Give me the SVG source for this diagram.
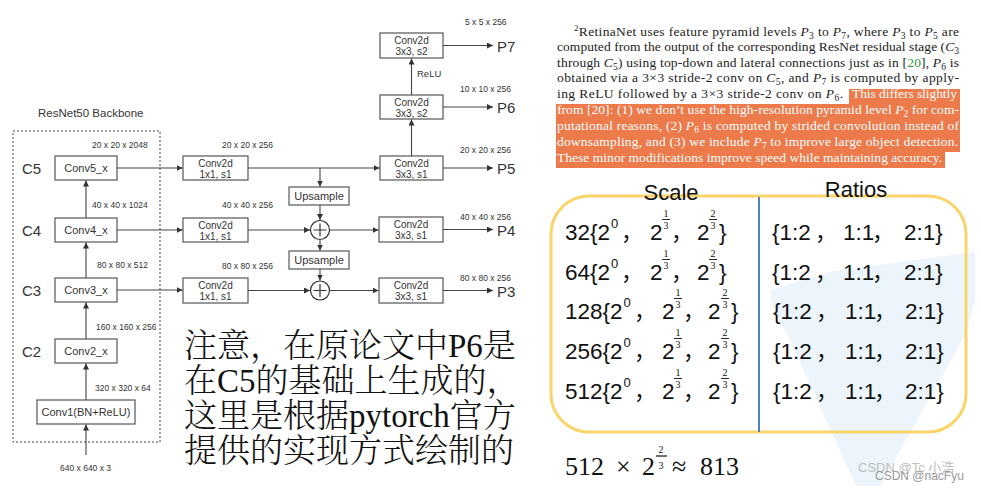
<svg xmlns="http://www.w3.org/2000/svg" width="981" height="491" viewBox="0 0 981 491">
<defs>
<marker id="ah" markerUnits="userSpaceOnUse" markerWidth="7" markerHeight="6" refX="6" refY="3" orient="auto">
<path d="M0,0 L6,3 L0,6 z" fill="#333"/>
</marker>
<style>
.box{fill:#fff;stroke:#555;stroke-width:1.2}
.t{font-family:"Liberation Sans",Arial,sans-serif;fill:#333}
.bl{font-size:11px;text-anchor:middle}
.cv{font-size:10px;text-anchor:middle}
.dim{font-size:8.5px}
.cl{font-size:15px}
.pl{font-size:15px}
.conn line,.conn path{stroke:#444;stroke-width:1.1;fill:none}
.arr{marker-end:url(#ah)}
.pa{font-family:"Liberation Serif","Times New Roman",serif;font-size:13.5px;fill:#222}
.wh{fill:#fff}
.i{font-style:italic}
.sb{font-size:9.5px}
.tb{font-family:"Liberation Sans",Arial,sans-serif;font-size:22.5px;fill:#111}
.sup{font-size:13px}
.fr{font-family:"Liberation Serif",serif;font-size:10px;fill:#111;text-anchor:middle}
.fb{stroke:#111;stroke-width:0.9}
.cm{font-family:"Noto Sans CJK SC",sans-serif;font-size:22px;fill:#111}
.hd{font-family:"Liberation Sans",Arial,sans-serif;font-size:22px;fill:#111;text-anchor:middle}
.zh{font-family:"Liberation Serif","Noto Serif CJK SC","Noto Sans CJK SC",serif;font-size:33px;font-weight:300;fill:#111}
.fm{font-family:"Liberation Serif",serif;font-size:26px;fill:#111}
</style>
</defs>
<rect width="981" height="491" fill="#fff"/>

<g id="backbone">
<text class="t" x="38" y="117" font-size="11.5">ResNet50 Backbone</text>
<rect x="13" y="131" width="147" height="311" fill="none" stroke="#444" stroke-width="1" stroke-dasharray="2,2"/>
<text class="t cl" x="22" y="174">C5</text>
<text class="t cl" x="22" y="236">C4</text>
<text class="t cl" x="22" y="296">C3</text>
<text class="t cl" x="22" y="357">C2</text>
</g>

<g id="conv5"><rect class="box" x="55" y="156" width="62" height="24"/><text class="t bl" x="86" y="172">Conv5_x</text></g>
<g id="conv4"><rect class="box" x="55" y="218" width="62" height="24"/><text class="t bl" x="86" y="234">Conv4_x</text></g>
<g id="conv3"><rect class="box" x="55" y="278" width="62" height="24"/><text class="t bl" x="86" y="294">Conv3_x</text></g>
<g id="conv2"><rect class="box" x="55" y="339" width="62" height="24"/><text class="t bl" x="86" y="355">Conv2_x</text></g>
<g id="conv1"><rect class="box" x="37" y="400" width="98" height="24"/><text class="t bl" x="86" y="416">Conv1(BN+ReLU)</text></g>

<g id="lat5"><rect class="box" x="183" y="156" width="65" height="24"/><text class="t cv" x="215.5" y="166.5">Conv2d</text><text class="t cv" x="215.5" y="177.5">1x1, s1</text></g>
<g id="lat4"><rect class="box" x="183" y="218" width="65" height="24"/><text class="t cv" x="215.5" y="228.5">Conv2d</text><text class="t cv" x="215.5" y="239.5">1x1, s1</text></g>
<g id="lat3"><rect class="box" x="183" y="278" width="65" height="25"/><text class="t cv" x="215.5" y="288.5">Conv2d</text><text class="t cv" x="215.5" y="299.5">1x1, s1</text></g>

<g id="up1"><rect class="box" x="289" y="187" width="60" height="18"/><text class="t bl" x="319" y="200">Upsample</text></g>
<g id="up2"><rect class="box" x="289" y="251" width="60" height="18"/><text class="t bl" x="319" y="264">Upsample</text></g>
<g id="add4"><circle cx="320" cy="230" r="9.5" fill="#fff" stroke="#333" stroke-width="1.2"/><path d="M313.5,230 H326.5 M320,223.5 V236.5" stroke="#333" stroke-width="1.2"/></g>
<g id="add3"><circle cx="320" cy="290.5" r="9.5" fill="#fff" stroke="#333" stroke-width="1.2"/><path d="M313.5,290.5 H326.5 M320,284 V297" stroke="#333" stroke-width="1.2"/></g>

<g id="p7conv"><rect class="box" x="380" y="33" width="63" height="25"/><text class="t cv" x="411.5" y="43.5">Conv2d</text><text class="t cv" x="411.5" y="55">3x3, s2</text></g>
<g id="p6conv"><rect class="box" x="380" y="95" width="63" height="24"/><text class="t cv" x="411.5" y="105.5">Conv2d</text><text class="t cv" x="411.5" y="116.5">3x3, s2</text></g>
<g id="p5conv"><rect class="box" x="380" y="156" width="63" height="24"/><text class="t cv" x="411.5" y="166.5">Conv2d</text><text class="t cv" x="411.5" y="177.5">3x3, s1</text></g>
<g id="p4conv"><rect class="box" x="379" y="217" width="64" height="25"/><text class="t cv" x="411" y="227.5">Conv2d</text><text class="t cv" x="411" y="239">3x3, s1</text></g>
<g id="p3conv"><rect class="box" x="379" y="278" width="64" height="25"/><text class="t cv" x="411" y="288.5">Conv2d</text><text class="t cv" x="411" y="300">3x3, s1</text></g>

<g id="outputs">
<text class="t pl" x="497" y="52">P7</text>
<text class="t pl" x="497" y="113">P6</text>
<text class="t pl" x="497" y="174">P5</text>
<text class="t pl" x="497" y="236">P4</text>
<text class="t pl" x="497" y="297">P3</text>
</g>

<g id="dims" class="t dim">
<text x="92" y="148">20 x 20 x 2048</text>
<text x="92" y="208">40 x 40 x 1024</text>
<text x="97" y="268">80 x 80 x 512</text>
<text x="96" y="330">160 x 160 x 256</text>
<text x="95" y="391">320 x 320 x 64</text>
<text x="60" y="471">640 x 640 x 3</text>
<text x="222" y="148">20 x 20 x 256</text>
<text x="222" y="208">40 x 40 x 256</text>
<text x="222" y="269">80 x 80 x 256</text>
<text x="465" y="25">5 x 5 x 256</text>
<text x="460" y="92">10 x 10 x 256</text>
<text x="460" y="153">20 x 20 x 256</text>
<text x="460" y="220">40 x 40 x 256</text>
<text x="460" y="281">80 x 80 x 256</text>
<text x="417" y="77" font-size="9.5">ReLU</text>
</g>

<g id="connectors" class="conn">
<line class="arr" x1="86" y1="455" x2="86" y2="424.5"/>
<line class="arr" x1="86" y1="400" x2="86" y2="363.5"/>
<line class="arr" x1="86" y1="339" x2="86" y2="302.5"/>
<line class="arr" x1="86" y1="278" x2="86" y2="242.5"/>
<line class="arr" x1="86" y1="218" x2="86" y2="180.5"/>
<line class="arr" x1="117" y1="168" x2="182.5" y2="168"/>
<line class="arr" x1="117" y1="230" x2="182.5" y2="230"/>
<line class="arr" x1="117" y1="290" x2="182.5" y2="290"/>
<line class="arr" x1="248" y1="168" x2="379.5" y2="168"/>
<line class="arr" x1="320" y1="168" x2="320" y2="186.5"/>
<line class="arr" x1="320" y1="205" x2="320" y2="220"/>
<line class="arr" x1="248" y1="230" x2="310" y2="230"/>
<line class="arr" x1="329.5" y1="230" x2="378.5" y2="230"/>
<line class="arr" x1="320" y1="239.5" x2="320" y2="250.5"/>
<line class="arr" x1="320" y1="269" x2="320" y2="280.5"/>
<line class="arr" x1="248" y1="290.5" x2="310" y2="290.5"/>
<line class="arr" x1="329.5" y1="290.5" x2="378.5" y2="290.5"/>
<line class="arr" x1="411.5" y1="156" x2="411.5" y2="119.5"/>
<line class="arr" x1="411.5" y1="95" x2="411.5" y2="58.5"/>
<line class="arr" x1="443" y1="45.5" x2="493" y2="45.5"/>
<line class="arr" x1="443" y1="107" x2="493" y2="107"/>
<line class="arr" x1="443" y1="168" x2="493" y2="168"/>
<line class="arr" x1="443" y1="229.5" x2="493" y2="229.5"/>
<line class="arr" x1="443" y1="290.5" x2="493" y2="290.5"/>
</g>

<g id="note" class="zh">
<text x="184" y="357">注意，在原论文中P6是</text>
<text x="184" y="392">在C5的基础上生成的，</text>
<text x="184" y="427">这里是根据pytorch官方</text>
<text x="184" y="462">提供的实现方式绘制的</text>
</g>

<g id="footnote">
<polygon points="849,89 960,89 960,152 945,152 945,168 556,168 556,104 849,104" fill="#EC7A4B"/>
<text class="pa" x="574" y="35.5" textLength="385" lengthAdjust="spacing"><tspan font-size="9" dy="-5">2</tspan><tspan dy="5">RetinaNet uses feature pyramid levels </tspan><tspan class="i">P</tspan><tspan class="sb" dy="3">3</tspan><tspan dy="-3"> to </tspan><tspan class="i">P</tspan><tspan class="sb" dy="3">7</tspan><tspan dy="-3">, where </tspan><tspan class="i">P</tspan><tspan class="sb" dy="3">3</tspan><tspan dy="-3"> to </tspan><tspan class="i">P</tspan><tspan class="sb" dy="3">5</tspan><tspan dy="-3"> are</tspan></text>
<text class="pa" x="557" y="51" textLength="402" lengthAdjust="spacing">computed from the output of the corresponding ResNet residual stage (<tspan class="i">C</tspan><tspan class="sb" dy="3">3</tspan></text>
<text class="pa" x="557" y="66.5" textLength="402" lengthAdjust="spacing">through <tspan class="i">C</tspan><tspan class="sb" dy="3">5</tspan><tspan dy="-3">) using top-down and lateral connections just as in [</tspan><tspan fill="#2f9a3a">20</tspan>], <tspan class="i">P</tspan><tspan class="sb" dy="3">6</tspan><tspan dy="-3"> is</tspan></text>
<text class="pa" x="557" y="82" textLength="402" lengthAdjust="spacing">obtained via a 3×3 stride-2 conv on <tspan class="i">C</tspan><tspan class="sb" dy="3">5</tspan><tspan dy="-3">, and </tspan><tspan class="i">P</tspan><tspan class="sb" dy="3">7</tspan><tspan dy="-3"> is computed by apply-</tspan></text>
<text class="pa" x="557" y="98" textLength="286" lengthAdjust="spacing">ing ReLU followed by a 3×3 stride-2 conv on <tspan class="i">P</tspan><tspan class="sb" dy="3">6</tspan><tspan dy="-3">.</tspan></text>
<text class="pa wh" x="852" y="98" textLength="105" lengthAdjust="spacing">This differs slightly</text>
<text class="pa wh" x="557" y="114" textLength="402" lengthAdjust="spacing">from [20]: (1) we don’t use the high-resolution pyramid level <tspan class="i">P</tspan><tspan class="sb" dy="3">2</tspan><tspan dy="-3"> for com-</tspan></text>
<text class="pa wh" x="557" y="130" textLength="402" lengthAdjust="spacing">putational reasons, (2) <tspan class="i">P</tspan><tspan class="sb" dy="3">6</tspan><tspan dy="-3"> is computed by strided convolution instead of</tspan></text>
<text class="pa wh" x="557" y="146" textLength="401" lengthAdjust="spacing">downsampling, and (3) we include <tspan class="i">P</tspan><tspan class="sb" dy="3">7</tspan><tspan dy="-3"> to improve large object detection.</tspan></text>
<text class="pa wh" x="557" y="161.5" textLength="385" lengthAdjust="spacing">These minor modifications improve speed while maintaining accuracy.</text>
</g>

<polygon points="770,290 830,272 900,262 975,252 975,300 965,335 880,486 856,486 790,340 772,305" fill="#E4F1FA" opacity="0.7"/>
<g id="anchor-table">
<rect x="551" y="196" width="415" height="236" rx="38" fill="none" stroke="#F8D46A" stroke-width="3"/>
<line x1="759" y1="197" x2="759" y2="432" stroke="#4F7FC0" stroke-width="2"/>
<text class="hd" x="671" y="200">Scale</text>
<text class="hd" x="856" y="197">Ratios</text>
</g>

<g id="row-32" transform="translate(0,240)">
<text class="tb" x="565">32{2<tspan class="sup" dx="1" dy="-12">0</tspan></text><text class="cm" x="621">，</text>
<text class="tb" x="650">2</text><text class="fr" x="666" y="-23">1</text><line class="fb" x1="662" y1="-20.5" x2="670" y2="-20.5"/><text class="fr" x="666" y="-11.5">3</text>
<text class="cm" x="671">，</text>
<text class="tb" x="697">2</text><text class="fr" x="713" y="-23">2</text><line class="fb" x1="709" y1="-20.5" x2="717" y2="-20.5"/><text class="fr" x="713" y="-11.5">3</text>
<text class="tb" x="719">}</text>
<text class="tb" x="772">{1:2</text><text class="cm" x="815">，</text><text class="tb" x="843">1:1</text><text class="cm" x="872">，</text><text class="tb" x="904">2:1}</text>
</g>
<g id="row-64" transform="translate(0,280)">
<text class="tb" x="565">64{2<tspan class="sup" dx="1" dy="-12">0</tspan></text><text class="cm" x="621">，</text>
<text class="tb" x="650">2</text><text class="fr" x="666" y="-23">1</text><line class="fb" x1="662" y1="-20.5" x2="670" y2="-20.5"/><text class="fr" x="666" y="-11.5">3</text>
<text class="cm" x="671">，</text>
<text class="tb" x="697">2</text><text class="fr" x="713" y="-23">2</text><line class="fb" x1="709" y1="-20.5" x2="717" y2="-20.5"/><text class="fr" x="713" y="-11.5">3</text>
<text class="tb" x="719">}</text>
<text class="tb" x="772">{1:2</text><text class="cm" x="815">，</text><text class="tb" x="843">1:1</text><text class="cm" x="872">，</text><text class="tb" x="904">2:1}</text>
</g>
<g id="row-128" transform="translate(0,319)">
<text class="tb" x="565">128{2<tspan class="sup" dx="1" dy="-12">0</tspan></text><text class="cm" x="634">，</text>
<text class="tb" x="662">2</text><text class="fr" x="678" y="-23">1</text><line class="fb" x1="674" y1="-20.5" x2="682" y2="-20.5"/><text class="fr" x="678" y="-11.5">3</text>
<text class="cm" x="683">，</text>
<text class="tb" x="708">2</text><text class="fr" x="725" y="-23">2</text><line class="fb" x1="721" y1="-20.5" x2="729" y2="-20.5"/><text class="fr" x="725" y="-11.5">3</text>
<text class="tb" x="731">}</text>
<text class="tb" x="773">{1:2</text><text class="cm" x="816">，</text><text class="tb" x="845">1:1</text><text class="cm" x="874">，</text><text class="tb" x="905">2:1}</text>
</g>
<g id="row-256" transform="translate(0,359)">
<text class="tb" x="565">256{2<tspan class="sup" dx="1" dy="-12">0</tspan></text><text class="cm" x="634">，</text>
<text class="tb" x="662">2</text><text class="fr" x="678" y="-23">1</text><line class="fb" x1="674" y1="-20.5" x2="682" y2="-20.5"/><text class="fr" x="678" y="-11.5">3</text>
<text class="cm" x="683">，</text>
<text class="tb" x="708">2</text><text class="fr" x="725" y="-23">2</text><line class="fb" x1="721" y1="-20.5" x2="729" y2="-20.5"/><text class="fr" x="725" y="-11.5">3</text>
<text class="tb" x="731">}</text>
<text class="tb" x="773">{1:2</text><text class="cm" x="816">，</text><text class="tb" x="845">1:1</text><text class="cm" x="874">，</text><text class="tb" x="905">2:1}</text>
</g>
<g id="row-512" transform="translate(0,399)">
<text class="tb" x="565">512{2<tspan class="sup" dx="1" dy="-12">0</tspan></text><text class="cm" x="634">，</text>
<text class="tb" x="662">2</text><text class="fr" x="678" y="-23">1</text><line class="fb" x1="674" y1="-20.5" x2="682" y2="-20.5"/><text class="fr" x="678" y="-11.5">3</text>
<text class="cm" x="683">，</text>
<text class="tb" x="708">2</text><text class="fr" x="725" y="-23">2</text><line class="fb" x1="721" y1="-20.5" x2="729" y2="-20.5"/><text class="fr" x="725" y="-11.5">3</text>
<text class="tb" x="731">}</text>
<text class="tb" x="773">{1:2</text><text class="cm" x="816">，</text><text class="tb" x="845">1:1</text><text class="cm" x="874">，</text><text class="tb" x="905">2:1}</text>
</g>

<g id="formula">
<text class="fm" x="565" y="475">512</text>
<text class="fm" x="616" y="475">×</text>
<text class="fm" x="642" y="475">2</text>
<text class="fr" x="661" y="453" font-size="15">2</text>
<line x1="656" y1="456" x2="667" y2="456" stroke="#111" stroke-width="1.2"/>
<text class="fr" x="661" y="469" font-size="15">3</text>
<text class="fm" x="672" y="475">≈</text>
<text class="fm" x="700" y="475">813</text>
</g>

<g id="watermark" font-family="Liberation Sans, Noto Sans CJK SC, sans-serif">
<text x="858" y="472" font-size="13" fill="#bdbdbd">CSDN @Tc 小浩</text>
<text x="875" y="480" font-size="12" fill="#9a9a9a">CSDN @nacFyu</text>
</g>
</svg>
